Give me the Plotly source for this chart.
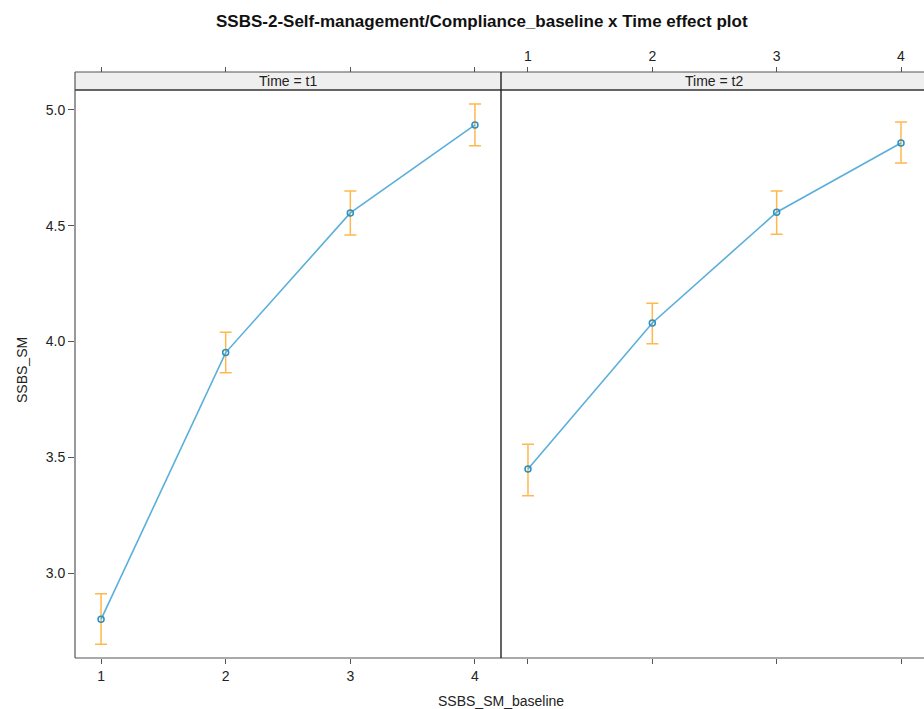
import plotly.graph_objects as go

# ---- data ----
baseline = [1, 2, 3, 4]
fit_t1 = [2.80, 3.952, 4.555, 4.935]
lower_t1 = [2.692, 3.865, 4.460, 4.845]
upper_t1 = [2.910, 4.040, 4.650, 5.025]
fit_t2 = [3.449, 4.080, 4.558, 4.857]
lower_t2 = [3.334, 3.990, 4.463, 4.771]
upper_t2 = [3.556, 4.165, 4.650, 4.948]
panels = ["Time = t1", "Time = t2"]
title = "SSBS-2-Self-management/Compliance_baseline x Time effect plot"
xlab = "SSBS_SM_baseline"
ylab = "SSBS_SM"
yticks = [3.0, 3.5, 4.0, 4.5, 5.0]

W, H = 924, 709
def px(x): return x / W
def py(y): return (H - y) / H

LINE = "#5aafdb"
ERR = "#ffb84d"
FONT = "Liberation Sans, Arial, sans-serif"
AX = "#555555"
FS = 14

fig = go.Figure()
series = [(fit_t1, lower_t1, upper_t1, "x", "y"), (fit_t2, lower_t2, upper_t2, "x2", "y2")]
for fit, lo, up, xa, ya in series:
    fig.add_trace(go.Scatter(
        x=baseline, y=fit, xaxis=xa, yaxis=ya, mode="lines+markers",
        line=dict(color=LINE, width=1.6),
        marker=dict(symbol="circle-open", size=6, color="#2a8fc4", line=dict(width=1.5)),
        error_y=dict(type="data", symmetric=False,
                     array=[u - f for u, f in zip(up, fit)],
                     arrayminus=[f - l for f, l in zip(fit, lo)],
                     color=ERR, thickness=1.5, width=6),
        showlegend=False, hoverinfo="skip"))
# invisible traces to keep top axes alive
fig.add_trace(go.Scatter(x=baseline, y=fit_t1, xaxis="x3", yaxis="y", mode="markers",
                         marker=dict(opacity=0), showlegend=False, hoverinfo="skip"))
fig.add_trace(go.Scatter(x=baseline, y=fit_t2, xaxis="x4", yaxis="y2", mode="markers",
                         marker=dict(opacity=0), showlegend=False, hoverinfo="skip"))

L0, L1 = 75, 501
R0, R1 = 501, 924
top_plot, bot_plot, strip_top = 90, 658, 72
yr = [2.633, 5.086]
xr_left = [0.791, 4.209]
xr_right = [0.783, 4.185]

common_x = dict(showgrid=False, zeroline=False, ticks="outside", ticklen=5, tickwidth=1,
                tickcolor=AX, tickvals=baseline, showline=False,
                tickfont=dict(family=FONT, size=FS, color="#222"))
fig.update_layout(
    width=W, height=H, margin=dict(l=0, r=0, t=0, b=0),
    paper_bgcolor="white", plot_bgcolor="white",
    xaxis=dict(domain=[px(L0), px(L1)], range=xr_left, anchor="y", showticklabels=True, **common_x),
    xaxis2=dict(domain=[px(R0), px(R1)], range=xr_right, anchor="y2", showticklabels=False, **common_x),
    xaxis3=dict(domain=[px(L0), px(L1)], range=xr_left, overlaying="x", side="top", anchor="free",
                position=py(strip_top), showticklabels=False, **common_x),
    xaxis4=dict(domain=[px(R0), px(R1)], range=xr_right, overlaying="x2", side="top", anchor="free",
                position=py(strip_top), showticklabels=True, **common_x),
    yaxis=dict(domain=[py(bot_plot), py(top_plot)], range=yr, anchor="x", tickvals=yticks,
               ticktext=[f"{v:.1f}" for v in yticks], showgrid=False, zeroline=False,
               ticks="outside", ticklen=6, tickcolor=AX, showline=False,
               tickfont=dict(family=FONT, size=FS, color="#222")),
    yaxis2=dict(domain=[py(bot_plot), py(top_plot)], range=yr, anchor="x2", matches="y",
                showticklabels=False, showgrid=False, zeroline=False, ticks="", showline=False),
)

shapes = []
# strips
for x0, x1 in [(L0, L1), (R0, R1 + 5)]:
    shapes.append(dict(type="rect", xref="paper", yref="paper", x0=px(x0), x1=px(x1),
                       y0=py(top_plot), y1=py(strip_top), fillcolor="#efefef",
                       line=dict(width=0), layer="below"))
def hline(y, x0, x1, color=AX, w=1.2):
    shapes.append(dict(type="line", xref="paper", yref="paper", x0=px(x0), x1=px(x1),
                       y0=py(y), y1=py(y), line=dict(color=color, width=w)))
def vline(x, y0, y1, color=AX, w=1.2):
    shapes.append(dict(type="line", xref="paper", yref="paper", x0=px(x), x1=px(x),
                       y0=py(y0), y1=py(y1), line=dict(color=color, width=w)))
hline(strip_top, L0, R1 + 5)
hline(top_plot, L0, R1 + 5, "#333333", 1.3)
hline(bot_plot, L0, R1 + 5)
vline(L0, strip_top, bot_plot)
vline(L1, strip_top, bot_plot, "#222222", 1.4)
fig.update_layout(shapes=shapes)

ann = [
    dict(text=f"<b>{title}</b>", x=px(482), y=py(22), xref="paper", yref="paper",
         showarrow=False, font=dict(family=FONT, size=17, color="#111"), xanchor="center", yanchor="middle"),
    dict(text=panels[0], x=px((L0 + L1) / 2), y=py(81), xref="paper", yref="paper",
         showarrow=False, font=dict(family=FONT, size=FS, color="#222"), xanchor="center", yanchor="middle"),
    dict(text=panels[1], x=px((R0 + 927) / 2), y=py(81), xref="paper", yref="paper",
         showarrow=False, font=dict(family=FONT, size=FS, color="#222"), xanchor="center", yanchor="middle"),
    dict(text=xlab, x=px(501), y=py(701), xref="paper", yref="paper",
         showarrow=False, font=dict(family=FONT, size=FS, color="#222"), xanchor="center", yanchor="middle"),
    dict(text=ylab, x=px(22), y=py(370), xref="paper", yref="paper", textangle=-90,
         showarrow=False, font=dict(family=FONT, size=FS, color="#222"), xanchor="center", yanchor="middle"),
]
fig.update_layout(annotations=ann)

fig.write_html("out.html")
